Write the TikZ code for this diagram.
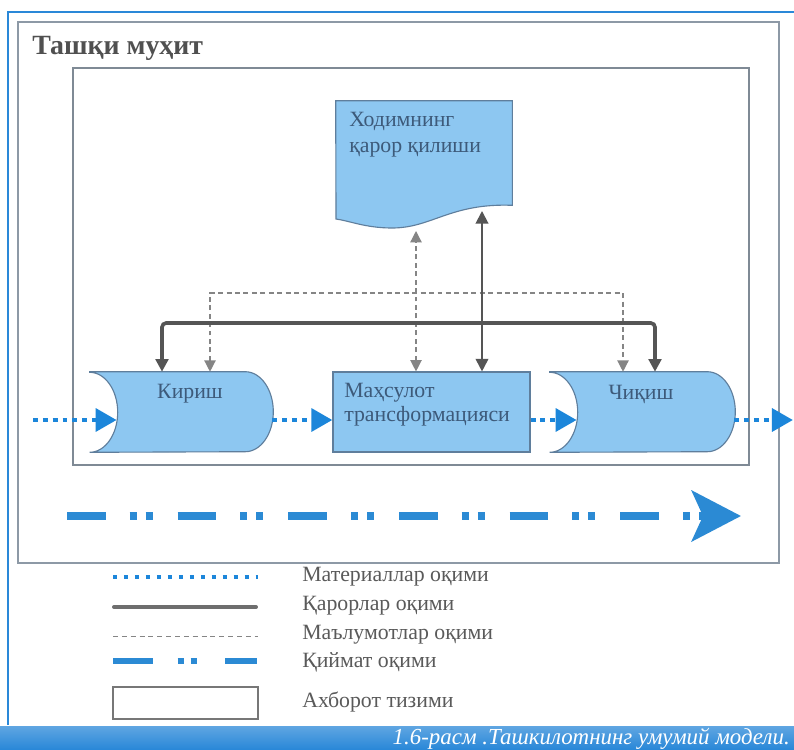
\documentclass[tikz,border=0pt]{standalone}
\usepackage{fontspec}
\setmainfont{Liberation Serif}
\usetikzlibrary{calc,positioning,arrows.meta}
\definecolor{boxblue}{HTML}{8DC7F1}
\definecolor{boxedge}{HTML}{5F7E9C}
\definecolor{boxtext}{HTML}{3D5A7A}
\definecolor{matblue}{HTML}{1C86DA}
\definecolor{valblue}{HTML}{2B8AD4}
\definecolor{decgrey}{HTML}{555555}
\definecolor{infogrey}{HTML}{858585}
\definecolor{framegrey}{HTML}{8D99A6}
\definecolor{titlegrey}{HTML}{505050}
\definecolor{legtext}{HTML}{5A5A5A}
\definecolor{capblue}{HTML}{2A88D8}
\tikzset{
  shapefill/.style={fill=boxblue, draw=boxedge, line width=0.8pt},
  region/.style={rectangle, minimum height=2cm, inner sep=0pt},
  boxlabel/.style={font=\fontsize{15.5}{17}\selectfont, text=boxtext, inner sep=0pt},
  legendlabel/.style={anchor=west, font=\fontsize{15.5}{17}\selectfont, text=legtext, inner sep=0pt},
  matflow/.style={draw=matblue, line width=3.5pt, dash pattern=on 3.5pt off 3.5pt,
                  -{Triangle[length=15pt,width=16pt]}},
  decflow/.style={draw=decgrey, line width=2.6pt, rounded corners=3pt,
                  {Triangle[length=9pt,width=9pt]}-{Triangle[length=9pt,width=9pt]}},
  declink/.style={draw=decgrey, line width=1.4pt,
                  {Triangle[length=9pt,width=9pt]}-{Triangle[length=9pt,width=9pt]}},
  infoflow/.style={draw=infogrey, line width=0.9pt, dash pattern=on 3.5pt off 2.5pt,
                   {Triangle[length=8pt,width=8pt]}-{Triangle[length=8pt,width=8pt]}},
  valflow/.style={draw=valblue, line width=5.6pt,
                  dash pattern=on 27.6pt off 17pt on 5pt off 6.4pt on 5pt off 17.7pt,
                  -{Stealth[length=35pt,width=36pt,inset=8pt]}}
}

\begin{document}
\begin{tikzpicture}[x=0.025cm, y=-0.025cm]
  \useasboundingbox[fill=white] (0,0) rectangle (794,749);
  % frames
  \draw[capblue, line width=2pt] (8,725) -- (8,12) -- (794,12);
  \draw[framegrey, line width=1.1pt] (18,22) rectangle (779,563);
  \draw[framegrey!90!black, line width=0.9pt] (73,68) rectangle (749,465);
  \node[anchor=base west, font=\fontsize{19.8}{22}\selectfont\bfseries, text=titlegrey, inner sep=0pt]
    (env) at (32,55) {Ташқи муҳит};

  % blocks
  \node[region, minimum width=4.4cm, minimum height=2.6cm] (doc) at (424,153) {};
  \node[region, minimum width=3.875cm] (kirish) at (167.5,412) {};
  \node[region, minimum width=4.925cm, shapefill] (prod) at (431.5,412) {};
  \node[region, minimum width=3.925cm] (chiqish) at (628.5,412) {};

  \path[shapefill] (doc.north west) -- (doc.north east) -- (doc.south east)
    .. controls (450,203) and (432,228) .. (392,228)
    .. controls (366,228) and (350,221) .. (336,219) -- cycle;
  \path[shapefill] (kirish.north west) -- (kirish.north east)
    arc[start angle=-90, end angle=90, x radius=28, y radius=40] -- (kirish.south west)
    arc[start angle=90, end angle=-90, x radius=28, y radius=40] -- cycle;
  \path[shapefill] (chiqish.north west) -- (chiqish.north east)
    arc[start angle=-90, end angle=90, x radius=28, y radius=40] -- (chiqish.south west)
    arc[start angle=90, end angle=-90, x radius=28, y radius=40] -- cycle;

  \node[boxlabel, anchor=west, align=left, font=\fontsize{15.5}{18.4}\selectfont]
    (doctxt) at (349,135) {Ходимнинг\\қарор қилиши};
  \node[boxlabel] (kirishtxt) at (190,394) {Кириш};
  \node[boxlabel, anchor=west, align=left] (prodtxt) at (344,405) {Маҳсулот\\трансформацияси};
  \node[boxlabel] (chiqishtxt) at (641,394) {Чиқиш};

  % decisions and information
  \coordinate (dL) at (162,323);
  \coordinate (dR) at (655,323);
  \coordinate (sTop) at (482,211);
  \coordinate (iL) at (210,293);
  \coordinate (iR) at (623,293);
  \coordinate (iTop) at (416,231);
  \draw[infoflow] (kirish.north -| iL) -- (iL) -- (iR) -- (chiqish.north -| iR);
  \draw[infoflow] (prod.north -| iTop) -- (iTop);
  \draw[decflow] (kirish.north -| dL) -- (dL) -- (dR) -- (chiqish.north -| dR);
  \draw[declink] (prod.north -| sTop) -- (sTop);

  % material flow
  \coordinate (mIn) at (33,420);
  \coordinate (mOut) at (793,420);
  \draw[matflow] (mIn) -- ($(kirish.west)+(27,8)$);
  \draw[matflow] ($(kirish.east)+(27,8)$) -- ($(prod.west)+(0,8)$);
  \draw[matflow] ($(prod.east)+(0,8)$) -- ($(chiqish.west)+(27,8)$);
  \draw[matflow] ($(chiqish.east)+(27,8)$) -- (mOut);

  % value flow
  \coordinate (vStart) at (67,516);
  \coordinate (vEnd) at (741,516);
  \draw[valflow] (vStart) -- (vEnd);

  % legend
  \draw[matblue, line width=2.8pt, dash pattern=on 2.8pt off 5pt] (113,577) -- (258,577);
  \draw[decgrey!85, line width=2.8pt, line cap=round] (114,607) -- (256,607);
  \draw[infogrey, line width=0.7pt, dash pattern=on 3.5pt off 2.8pt] (113,636) -- (258,636);
  \draw[valblue, line width=4.2pt,
        dash pattern=on 28.3pt off 17.7pt on 4.2pt off 5pt on 4.2pt off 20.5pt] (113,661) -- (257,661);
  \node[draw=decgrey!80, line width=0.9pt, minimum width=3.625cm, minimum height=0.8cm,
        inner sep=0pt] (legbox) at (185.5,703) {};
  \node[legendlabel] (lmat) at (302,577) {Материаллар оқими};
  \node[legendlabel] (ldec) at (302,606) {Қарорлар оқими};
  \node[legendlabel] (linfo) at (302,635) {Маълумотлар оқими};
  \node[legendlabel] (lval) at (302,662) {Қиймат оқими};
  \node[legendlabel] (lsys) at (302,702) {Ахборот тизими};

  % caption
  \shade[top color=capblue!75, bottom color=capblue] (0,726) rectangle (794,749);
  \node[anchor=east, font=\fontsize{16.3}{18}\selectfont\itshape, text=white, inner sep=0pt]
    (caption) at (790,739) {1.6-расм .Ташкилотнинг умумий модели.};
\end{tikzpicture}
\end{document}
